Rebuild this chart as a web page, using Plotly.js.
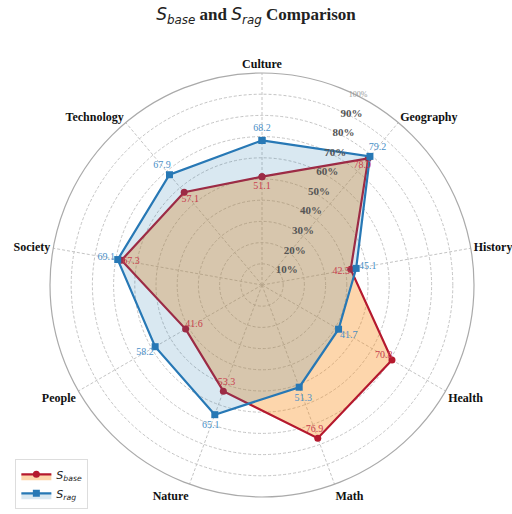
<!DOCTYPE html>
<html><head><meta charset="utf-8">
<script src="https://cdn.plot.ly/plotly-3.0.1.min.js"></script>
<style>html,body{margin:0;padding:0;background:#fff}#chart{width:512px;height:514px}</style>
</head><body><div id="chart"></div>
<script>
const categories = ['Culture','Geography','History','Health','Math','Nature','People','Society','Technology'];
const baseValues = [51.1, 78.0, 42.5, 70.8, 76.9, 53.3, 41.6, 67.3, 57.1];
const ragValues  = [68.2, 79.2, 45.1, 41.7, 51.3, 65.1, 58.2, 69.1, 67.9];
const radialTicks = [10,20,30,40,50,60,70,80,90,100];
const radialTickText = ['10%','20%','30%','40%','50%','60%','70%','80%','90%','<span style="font-size:8px;color:#999;font-weight:normal">100%</span>'];

const baseName = '<i>S</i><sub><i>base</i></sub>';
const ragName = '<i>S</i><sub><i>rag</i></sub>';
const close = a => a.concat([a[0]]);
const cats = close(categories);

const baseColor = '#b5192e';
const ragColor = '#2778b5';
const serif = 'Liberation Serif';

const traces = [
  {type:'scatterpolar', r: close(baseValues), theta: cats, mode:'lines+markers', name: baseName,
   fill:'toself', fillcolor:'rgba(249,138,18,0.35)',
   line:{color: baseColor, width:2.2}, marker:{symbol:'circle', size:7, color: baseColor}},
  {type:'scatterpolar', r: close(ragValues), theta: cats, mode:'lines+markers', name: ragName,
   fill:'toself', fillcolor:'rgba(45,130,180,0.18)',
   line:{color: ragColor, width:2.2}, marker:{symbol:'square', size:7, color: ragColor}},
  {type:'scatterpolar', r: baseValues.map(v => v - 4.5), theta: categories, mode:'text',
   text: baseValues.map(v => v.toFixed(1)), textposition:'middle center',
   textfont:{family: serif, size:10, color:'#c8404f'}, showlegend:false, hoverinfo:'skip'},
  {type:'scatterpolar', r: ragValues.map(v => v + 5.5), theta: categories, mode:'text',
   text: ragValues.map(v => v.toFixed(1)), textposition:'middle center',
   textfont:{family: serif, size:10, color:'#4a90c8'}, showlegend:false, hoverinfo:'skip'}
];

const mathSub = (s, sub) => '<span style="font-family:DejaVu Sans;font-weight:normal;font-style:italic">' + s + '</span>' +
  '<sub><span style="font-family:DejaVu Sans;font-weight:normal;font-style:italic">' + sub + '</span></sub>';

const layout = {
  width:512, height:514,
  margin:{l:0,r:0,t:0,b:0},
  paper_bgcolor:'#fff',
  title:{text: mathSub('S','base') + ' and ' + mathSub('S','rag') + ' Comparison',
         font:{family: serif, size:17, color:'#222', weight:'bold'}, x:0.5, xanchor:'center', y:0.972, yanchor:'middle'},
  showlegend:true,
  legend:{x:0.03, y:0.01, xanchor:'left', yanchor:'bottom', bgcolor:'#fff', bordercolor:'#ddd', borderwidth:1,
          itemwidth:30, font:{family:'DejaVu Sans', size:11, color:'#222'}},
  polar:{
    domain:{x:[50/512, 474/512], y:[17/514, 441/514]},
    bgcolor:'#fff',
    angularaxis:{type:'category', categoryarray: categories, direction:'clockwise', rotation:90,
      showline:true, linecolor:'#aaa', linewidth:1.2,
      showgrid:true, gridcolor:'#c4c4c4', griddash:'3px,2px', gridwidth:1,
      ticks:'',
      tickfont:{family: serif, size:12, color:'#111', weight:'bold'}},
    radialaxis:{range:[0,100], angle:67.5, side:'clockwise', tickangle:67.5,
      tickvals: radialTicks, ticktext: radialTickText,
      showline:false, ticks:'',
      showgrid:true, gridcolor:'#c4c4c4', griddash:'3px,2px', gridwidth:1,
      tickfont:{family: serif, size:11, color:'#555', weight:'bold'}}
  }
};
Plotly.newPlot('chart', traces, layout, {displayModeBar:false, staticPlot:true});
</script></body></html>
